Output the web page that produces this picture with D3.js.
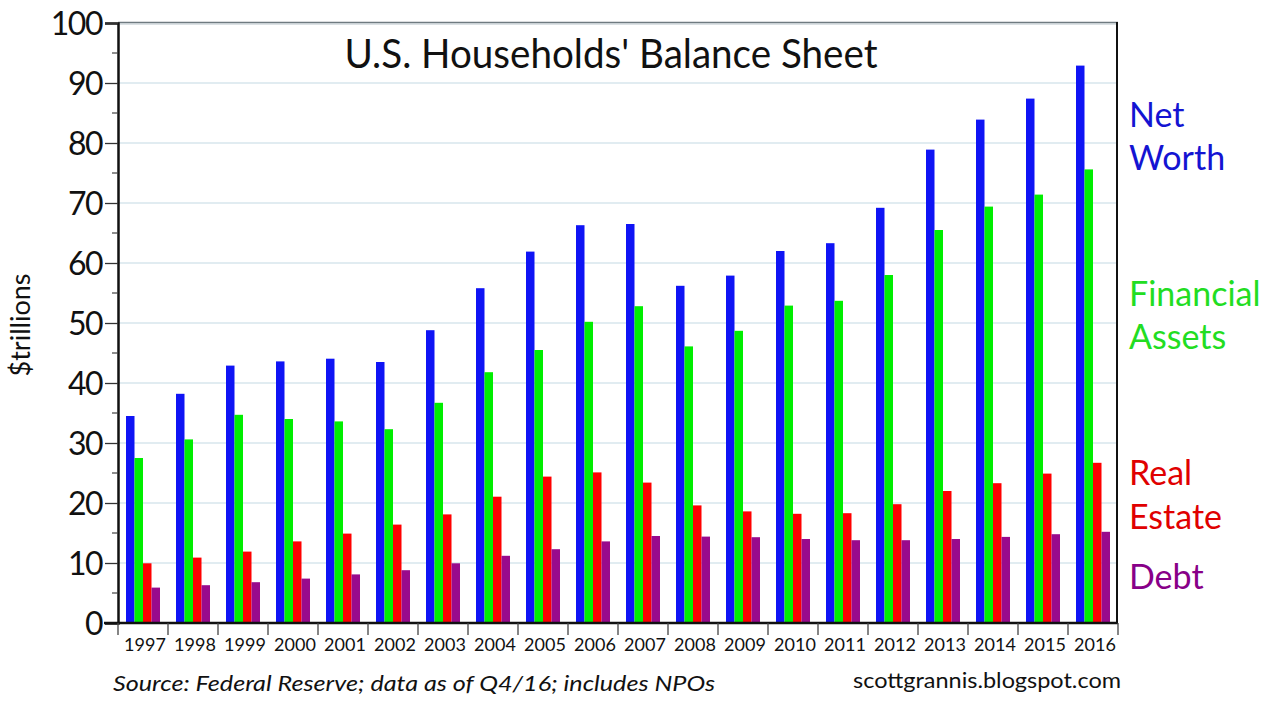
<!DOCTYPE html>
<html><head><meta charset="utf-8">
<script src="https://cdn.jsdelivr.net/npm/d3@7"></script>
<style>body{margin:0;background:#fff}svg{display:block}</style>
</head><body><svg id="c" width="1286" height="710"></svg>
<script>
const years = ["1997","1998","1999","2000","2001","2002","2003","2004","2005","2006","2007","2008","2009","2010","2011","2012","2013","2014","2015","2016"];
const netWorth = [34.5,38.2,42.9,43.6,44.05,43.5,48.8,55.8,61.9,66.3,66.5,56.2,57.9,62.0,63.3,69.2,78.9,83.9,87.4,92.9];
const financialAssets = [27.5,30.6,34.7,34.0,33.6,32.3,36.7,41.8,45.5,50.2,52.8,46.1,48.7,52.9,53.7,58.0,65.5,69.4,71.4,75.6];
const realEstate = [9.95,10.9,11.9,13.6,14.9,16.4,18.1,21.05,24.4,25.1,23.4,19.6,18.6,18.2,18.3,19.8,22.0,23.3,24.9,26.7];
const debt = [5.9,6.3,6.8,7.4,8.1,8.8,9.95,11.2,12.3,13.6,14.5,14.4,14.3,14.0,13.8,13.8,14.0,14.35,14.8,15.2];
const seriesNames = ["Net Worth","Financial Assets","Real Estate","Debt"];
const yTicks = [0,10,20,30,40,50,60,70,80,90,100];

const seriesValues = [netWorth, financialAssets, realEstate, debt];
const barColors = ["#0f14f5","#00ee00","#ff0000","#990a8c"];
const textColors = ["#1414d2","#22dd22","#e00000","#880088"];

const svg = d3.select("#c");
const L = 118, R = 1117, T = 23, B = 623;
const font = "Lato, 'DejaVu Sans', sans-serif";

const y = d3.scaleLinear().domain([0,100]).range([B,T]);
const x0 = d3.scaleBand().domain(years).range([L, R+1]).padding(0);
const x1 = d3.scaleBand().domain(seriesNames).range([8, 42]).padding(0);

// gridlines
svg.append("g").selectAll("line").data(yTicks.filter(d=>d>0&&d<100)).join("line")
  .attr("x1",L).attr("x2",R).attr("y1",d=>y(d)).attr("y2",d=>y(d))
  .attr("stroke","#c3d9e3").attr("stroke-width",1.2);

// bars
const g = svg.append("g");
years.forEach((yr,i)=>{
  seriesNames.forEach((s,j)=>{
    g.append("rect")
      .attr("x", x0(yr)+x1(s))
      .attr("width", x1.bandwidth())
      .attr("y", y(seriesValues[j][i]))
      .attr("height", B - y(seriesValues[j][i]))
      .attr("fill", barColors[j]);
  });
});

// top border (gray double) and right border
svg.append("line").attr("x1",L).attr("x2",R+1).attr("y1",T-0.5).attr("y2",T-0.5).attr("stroke","#6f7a80").attr("stroke-width",1.5);
svg.append("line").attr("x1",L).attr("x2",R+1).attr("y1",T+1).attr("y2",T+1).attr("stroke","#b8c4ca").attr("stroke-width",1);
svg.append("line").attr("x1",R).attr("x2",R).attr("y1",T-1).attr("y2",B).attr("stroke","#111").attr("stroke-width",2);

// left axis
const yAxis = d3.axisLeft(y).tickValues(yTicks).tickSize(13).tickPadding(4).tickFormat(d3.format("d"));
const ya = svg.append("g").attr("transform",`translate(${L},0)`).call(yAxis);
ya.select(".domain").attr("stroke","#111").attr("stroke-width",2.5);
ya.selectAll(".tick line").attr("stroke","#333").attr("stroke-width",1.3);
ya.selectAll(".tick text").attr("font-family",font).attr("font-size",32).attr("fill","#111")
  .attr("letter-spacing","-1.5px").attr("dy","0.36em").attr("x",-16);
// minor ticks
svg.append("g").selectAll("line").data(d3.range(5,100,10)).join("line")
  .attr("x1",L-6).attr("x2",L).attr("y1",d=>y(d)).attr("y2",d=>y(d))
  .attr("stroke","#444").attr("stroke-width",1.2);

// bottom axis with ticks at category boundaries
svg.append("line").attr("x1",L-14).attr("x2",R+1).attr("y1",B).attr("y2",B).attr("stroke","#111").attr("stroke-width",2.5);
const bounds = years.map(yr=>x0(yr)).concat([x0(years[years.length-1])+x0.bandwidth()]);
svg.append("g").selectAll("line").data(bounds).join("line")
  .attr("x1",d=>d).attr("x2",d=>d).attr("y1",B).attr("y2",B+12)
  .attr("stroke","#444").attr("stroke-width",1.3);
svg.append("g").selectAll("text").data(years).join("text")
  .attr("x",d=>x0(d)+x0.bandwidth()/2+2).attr("y",651)
  .attr("text-anchor","middle").attr("font-family",font).attr("font-size",18)
  .attr("fill","#111").text(d=>d);

// title
svg.append("text").attr("x",611).attr("y",68).attr("text-anchor","middle")
  .attr("font-family",font).attr("font-size",40).attr("fill","#111")
  .attr("textLength",533).attr("lengthAdjust","spacingAndGlyphs")
  .text("U.S. Households' Balance Sheet");

// y title
svg.append("text").attr("transform","translate(30,325) rotate(-90)").attr("text-anchor","middle")
  .attr("font-family",font).attr("font-size",27).attr("fill","#111").text("$trillions");

// right legend labels
const legendLines = [
  {t:"Net", y:127, c:0},{t:"Worth", y:170, c:0},
  {t:"Financial", y:306, c:1},{t:"Assets", y:349, c:1},
  {t:"Real", y:485, c:2},{t:"Estate", y:529, c:2},
  {t:"Debt", y:589, c:3}
];
svg.append("g").selectAll("text").data(legendLines).join("text")
  .attr("x",1129).attr("y",d=>d.y).attr("font-family",font).attr("font-size",34)
  .attr("fill",d=>textColors[d.c]).text(d=>d.t);

// footer
svg.append("text").attr("x",113).attr("y",691).attr("font-family",font).attr("font-style","italic")
  .attr("font-size",21).attr("fill","#111").attr("textLength",602).attr("lengthAdjust","spacingAndGlyphs")
  .text("Source: Federal Reserve; data as of Q4/16; includes NPOs");
svg.append("text").attr("x",1121).attr("y",688).attr("text-anchor","end").attr("font-family",font)
  .attr("font-size",21).attr("fill","#111").attr("textLength",268).attr("lengthAdjust","spacingAndGlyphs")
  .text("scottgrannis.blogspot.com");
</script></body></html>
